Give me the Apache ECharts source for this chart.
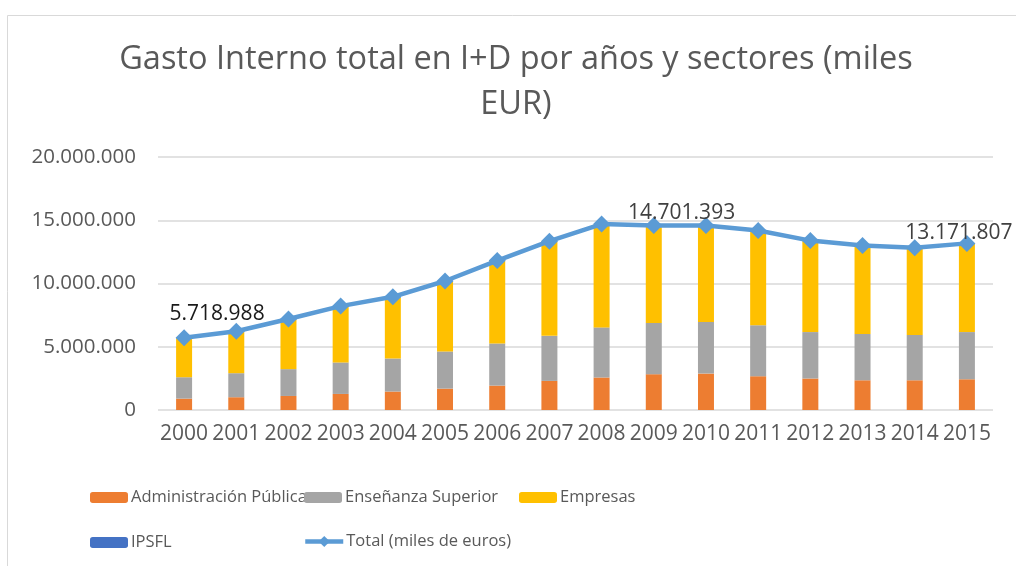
<!DOCTYPE html>
<html>
<head>
<meta charset="utf-8">
<script src="https://cdn.jsdelivr.net/npm/echarts@6/dist/echarts.min.js"></script>
<style>
  html, body { margin: 0; padding: 0; background: #fff; }
  #chart { width: 1016px; height: 566px; }
</style>
</head>
<body>
<div id="chart"></div>
<script>
// datos (miles de euros)
var years = ['2000', '2001', '2002', '2003', '2004', '2005', '2006', '2007',
  '2008', '2009', '2010', '2011', '2012', '2013', '2014', '2015']
var administracion = [900000, 1010000, 1110000, 1270000, 1460000, 1690000, 1930000, 2300000,
  2570000, 2830000, 2880000, 2670000, 2490000, 2350000, 2350000, 2430000]
var ensenanza = [1690000, 1900000, 2120000, 2490000, 2610000, 2940000, 3330000, 3560000,
  3960000, 4050000, 4080000, 4020000, 3670000, 3660000, 3580000, 3730000]
var empresas = [3090000, 3280000, 3925000, 4420000, 4835000, 5535000, 6535000, 7465000,
  8150000, 7680000, 7600000, 7465000, 7220000, 6990000, 6880000, 7000000]
var ipsfl = [38000, 39000, 38000, 35000, 41000, 31000, 22000, 19000,
  22000, 24000, 30000, 29000, 13000, 12000, 11000, 14000]
var total = [5718988, 6227157, 7193538, 8213036, 8945761, 10196871, 11815218, 13342371,
  14701393, 14581676, 14588455, 14184295, 13391607, 13011798, 12820756, 13171807]
var yTicks = [0, 5000000, 10000000, 15000000, 20000000]

var FONT = 'Open Sans'
var GREY = '#595959'

function miles (v) {
  return String(Math.round(v)).replace(/\B(?=(\d{3})+(?!\d))/g, '.')
}

// etiquetas solo en 2000, 2008 y 2015
var labelled = { 0: [33, 0, '#1a1a1a'], 8: [80, 13, '#404040'], 15: [-8, 14, '#404040'] }
var totalData = total.map(function (v, i) {
  var l = labelled[i]
  if (!l) return v
  return {
    value: v,
    label: {
      show: true,
      position: 'top',
      offset: [l[0], l[1]],
      color: l[2],
      fontFamily: FONT,
      fontSize: 21,
      formatter: function (p) { return miles(p.value) }
    }
  }
})

// una leyenda por elemento para mantener las columnas
function legendItem (name, left, top) {
  return {
    data: [name],
    left: left,
    top: top,
    itemWidth: 38,
    itemHeight: 11,
    padding: 0,
    textStyle: { fontFamily: FONT, fontSize: 16.5, color: GREY, padding: [0, 0, 0, -2] }
  }
}

var chart = echarts.init(document.getElementById('chart'))
var option = {
  animation: false,
  textStyle: { fontFamily: FONT },
  graphic: [{
    type: 'rect',
    left: 5,
    top: 13,
    shape: { width: 1100, height: 600 },
    style: { fill: 'none', stroke: '#d9d9d9', lineWidth: 1 },
    silent: true
  }],
  title: {
    text: 'Gasto Interno total en I+D por años y sectores (miles\nEUR)',
    left: 511,
    top: 32,
    textAlign: 'center',
    textStyle: {
      fontFamily: FONT,
      fontSize: 32.5,
      fontWeight: 'normal',
      color: GREY,
      lineHeight: 45
    }
  },
  grid: { left: 158, right: 23, top: 157, bottom: 156 },
  legend: [
    legendItem('Administración Pública', 90, 489),
    legendItem('Enseñanza Superior', 304, 489),
    legendItem('Empresas', 519, 489),
    legendItem('IPSFL', 90, 534),
    Object.assign(legendItem('Total (miles de euros)', 303, 533), {
      itemHeight: 14,
      lineStyle: { width: 4.5 }
    })
  ],
  xAxis: {
    type: 'category',
    data: years,
    axisLine: { show: false },
    axisTick: { show: false },
    axisLabel: { color: GREY, fontSize: 21, margin: 14, interval: 0 }
  },
  yAxis: {
    type: 'value',
    min: yTicks[0],
    max: yTicks[yTicks.length - 1],
    interval: yTicks[1] - yTicks[0],
    axisLine: { show: false },
    axisTick: { show: false },
    splitLine: { lineStyle: { color: '#d9d9d9', width: 1.5 } },
    axisLabel: { color: GREY, fontSize: 20.5, margin: 22, formatter: miles }
  },
  series: [{
    name: 'Administración Pública',
    type: 'bar',
    stack: 'gasto',
    barWidth: 16,
    itemStyle: { color: '#ED7D31' },
    data: administracion
  }, {
    name: 'Enseñanza Superior',
    type: 'bar',
    stack: 'gasto',
    itemStyle: { color: '#A5A5A5' },
    data: ensenanza
  }, {
    name: 'Empresas',
    type: 'bar',
    stack: 'gasto',
    itemStyle: { color: '#FFC000' },
    data: empresas
  }, {
    name: 'IPSFL',
    type: 'bar',
    stack: 'gasto',
    itemStyle: { color: '#4472C4' },
    data: ipsfl
  }, {
    name: 'Total (miles de euros)',
    type: 'line',
    symbol: 'diamond',
    symbolSize: 17,
    z: 5,
    itemStyle: { color: '#5B9BD5' },
    lineStyle: { color: '#5B9BD5', width: 4.5 },
    data: totalData
  }]
}
chart.setOption(option)
</script>
</body>
</html>
